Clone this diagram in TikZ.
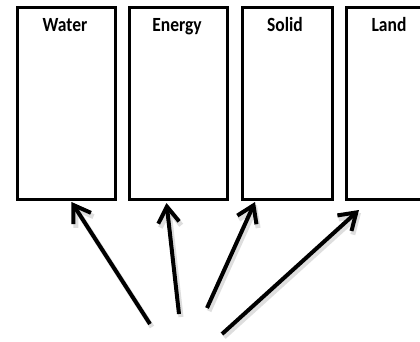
\documentclass[tikz,border=0pt]{standalone}
\usepackage{fontspec}
\setmainfont{Carlito}
\usetikzlibrary{arrows.meta,calc}
\begin{document}
\begin{tikzpicture}[x=1pt,y=-1pt,
  catbox/.style={draw=black,line width=3pt,rectangle,inner sep=0pt,anchor=north west,fill=white},
  cattext/.style={anchor=base,font=\fontsize{17.5}{20}\selectfont\bfseries,inner sep=0pt},
  arr/.style={line width=4pt,-{Straight Barb[length=16pt,width=21pt]}},
  arrshadow/.style={line width=5pt,draw=black!18,opacity=0.7,-{Straight Barb[length=16pt,width=21pt]}}
]
\useasboundingbox (0,0) rectangle (420,341);
\clip (0,0) rectangle (420,341);
\fill[white] (0,0) rectangle (420,341);
% boxes
\node[catbox,minimum width=98pt,minimum height=192pt] (water) at (16,6) {};
\node[catbox,minimum width=98pt,minimum height=192pt] (energy) at (128,6) {};
\node[catbox,minimum width=90pt,minimum height=192pt] (solid) at (241,6) {};
\node[catbox,minimum width=90pt,minimum height=192pt] (land) at (345,6) {};
% labels
\node[cattext] (twater) at (65,31) {\scalebox{1}[1.15]{Water}};
\node[cattext] (tenergy) at (177,31) {\scalebox{1}[1.15]{Energy}};
\node[cattext] (tsolid) at (285,31) {\scalebox{1}[1.15]{Solid}};
\node[cattext] (tland) at (389,31) {\scalebox{1}[1.15]{Land}};
% arrow ends
\coordinate (s1) at (150,324);
\coordinate (s2) at (179,314);
\coordinate (s3) at (207,308);
\coordinate (s4) at (222,334);
\coordinate (e1) at ($(water.south west)+(55.5,1)$);
\coordinate (e2) at ($(energy.south west)+(38.5,2)$);
\coordinate (e3) at ($(solid.south west)+(14,1)$);
\coordinate (e4) at ($(land.south west)+(14,9)$);
% shadows
\foreach \i in {1,2,3,4}{
  \draw[arrshadow] ($(s\i)+(2,3)$) -- ($(e\i)+(2,3)$);
}
% arrows
\draw[arr] (s1) -- (e1);
\draw[arr] (s2) -- (e2);
\draw[arr] (s3) -- (e3);
\draw[arr] (s4) -- (e4);
\end{tikzpicture}
\end{document}
